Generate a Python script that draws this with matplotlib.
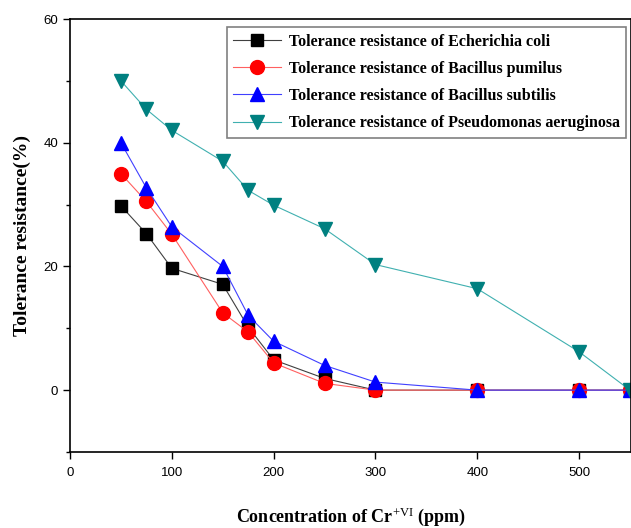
import matplotlib.pyplot as plt
from matplotlib.ticker import MultipleLocator

conc = [50, 75, 100, 150, 175, 200, 250, 300, 400, 500, 550]
ecoli = [29.8, 25.3, 19.7, 17.1, 10.2, 4.9, 1.9, 0, 0, 0, 0]
pumilus = [35.0, 30.5, 25.2, 12.5, 9.4, 4.4, 1.1, 0, 0, 0, 0]
subtilis = [40.0, 32.7, 26.4, 20.0, 12.1, 7.9, 4.0, 1.3, 0, 0, 0]
pseudo = [50.0, 45.4, 42.0, 37.0, 32.3, 29.9, 26.1, 20.3, 16.4, 6.2, 0]

labels = ["Tolerance resistance of Echerichia coli",
          "Tolerance resistance of Bacillus pumilus",
          "Tolerance resistance of Bacillus subtilis",
          "Tolerance resistance of Pseudomonas aeruginosa"]

serif = "Liberation Serif"
sans = "Liberation Sans"
plt.rcParams["mathtext.fontset"] = "custom"
plt.rcParams["mathtext.rm"] = "Liberation Serif"
plt.rcParams["mathtext.it"] = "Liberation Serif"
plt.rcParams["mathtext.bf"] = "Liberation Serif:bold"

fig = plt.figure(figsize=(6.31, 5.28), dpi=100)
ax = fig.add_axes([70 / 631, 1 - 452 / 528, 1 - 70 / 631, (452 - 19) / 528])

ax.plot(conc, ecoli, color="#404040", lw=0.8, marker="s", ms=9,
        mfc="black", mec="black", label=labels[0])
ax.plot(conc, pumilus, color="#ff6060", lw=0.8, marker="o", ms=10,
        mfc="red", mec="red", label=labels[1])
ax.plot(conc, subtilis, color="#4040ff", lw=0.8, marker="^", ms=10,
        mfc="blue", mec="blue", label=labels[2])
ax.plot(conc, pseudo, color="#40b0b0", lw=0.8, marker="v", ms=10,
        mfc="#008080", mec="#008080", label=labels[3])

ax.set_xlim(0, 551)
ax.set_ylim(-10, 60)
ax.xaxis.set_major_locator(MultipleLocator(100))
ax.yaxis.set_major_locator(MultipleLocator(20))
ax.yaxis.set_minor_locator(MultipleLocator(10))
ax.tick_params(which="major", direction="out", length=5, width=1,
               labelsize=9.5, top=False, right=False)
ax.tick_params(which="minor", direction="out", length=3, width=1)
for lab in ax.get_xticklabels() + ax.get_yticklabels():
    lab.set_fontfamily(sans)
ax.xaxis.set_tick_params(pad=6)
for s in ax.spines.values():
    s.set_linewidth(1.2)

ax.set_xlabel("Concentration of Cr$^{+\\mathrm{VI}}$ (ppm)", fontfamily=serif,
              fontweight="bold", fontsize=13, labelpad=19)
ax.set_ylabel("Tolerance resistance(%)", fontfamily=serif,
              fontweight="bold", fontsize=14, labelpad=9)

leg = ax.legend(loc="upper right", bbox_to_anchor=(1.0, 0.992),
                prop={"family": serif, "weight": "bold", "size": 11.5},
                handlelength=3.0, fancybox=False, edgecolor="#808080",
                framealpha=1, borderpad=0.4, labelspacing=0.7,
                handletextpad=0.5, borderaxespad=0.3)
leg.get_frame().set_linewidth(1.2)

fig.savefig("out.png", dpi=100)
